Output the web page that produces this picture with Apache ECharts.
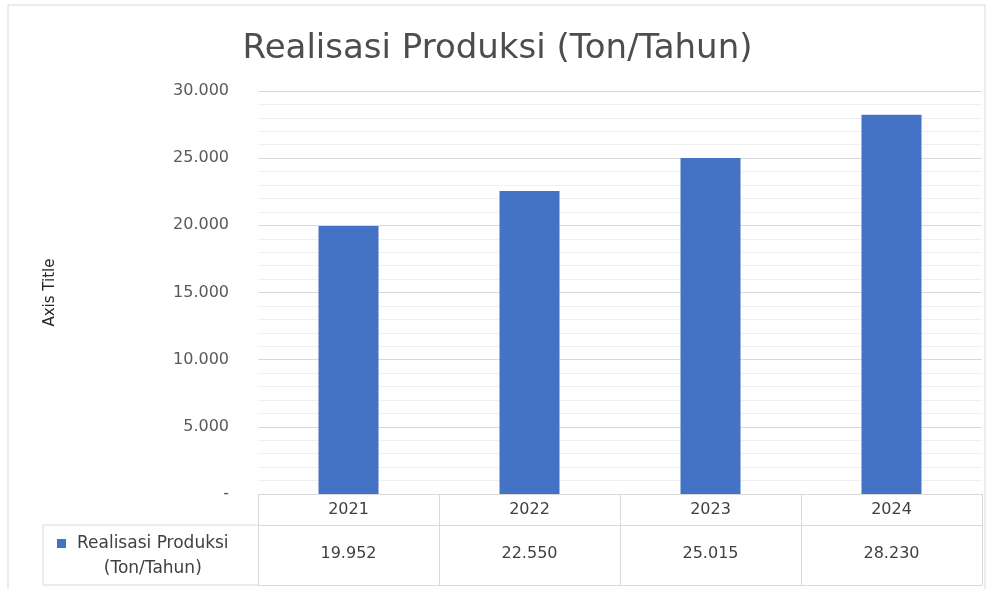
<!DOCTYPE html>
<html lang="en">
<head>
    <meta charset="UTF-8">
    <title>Realisasi Produksi (Ton/Tahun)</title>
    <script src="https://cdn.jsdelivr.net/npm/echarts@6/dist/echarts.min.js"></script>
    <style>
        html, body { margin: 0; padding: 0; background: #fff; }
        #main { width: 995px; height: 589px; }
    </style>
</head>
<body>
    <div id="main"></div>
    <script>
        // data
        var years = ['2021', '2022', '2023', '2024'];
        var produksi = [19952, 22550, 25015, 28230];
        var seriesName = 'Realisasi Produksi (Ton/Tahun)';

        function fmt(v) {
            if (v === 0) return '-';
            return String(v).replace(/\B(?=(\d{3})+(?!\d))/g, '.');
        }

        var fontFam = '"DejaVu Sans", "Noto Sans", sans-serif';
        var lineCol = '#d9d9d9';

        var myChart = echarts.init(document.getElementById('main'));
        var option = {
            animation: false,
            title: {
                text: seriesName,
                left: 'center',
                top: 27,
                textStyle: { fontFamily: fontFam, fontSize: 34, fontWeight: 'normal', color: '#4d4d4d' }
            },
            legend: {
                data: [seriesName],
                left: 52,
                top: 530,
                // square sits at the top of a taller box so it lines up with the first text line
                icon: 'path://M0,0 L9,0 L9,9 L0,9 Z M0,34 L0,34',
                itemWidth: 9,
                itemHeight: 34,
                itemGap: 6,
                formatter: function () { return '{a|Realisasi Produksi}\n{a|(Ton/Tahun)}'; },
                textStyle: {
                    fontFamily: fontFam, fontSize: 17, color: '#404040', padding: [0, 0, 0, 6],
                    rich: { a: { fontFamily: fontFam, fontSize: 17, color: '#404040', lineHeight: 25, align: 'center' } }
                }
            },
            grid: { left: 258, right: 13, top: 91, bottom: 95 },
            xAxis: [{
                type: 'category',
                data: years,
                axisLine: { lineStyle: { color: lineCol } },
                axisTick: { show: true, length: 91, lineStyle: { color: lineCol } },
                axisLabel: { margin: 8, fontFamily: fontFam, fontSize: 16, color: '#404040' }
            }, {
                type: 'category',
                position: 'bottom',
                offset: 31,
                data: produksi.map(fmt),
                axisLine: { lineStyle: { color: lineCol } },
                axisTick: { show: false },
                axisLabel: { margin: 21, fontFamily: fontFam, fontSize: 16, color: '#404040' }
            }, {
                type: 'category',
                position: 'bottom',
                offset: 91,
                data: years,
                axisLine: { lineStyle: { color: lineCol } },
                axisTick: { show: false },
                axisLabel: { show: false }
            }],
            yAxis: {
                type: 'value',
                min: 0,
                max: 30000,
                interval: 5000,
                name: 'Axis Title',
                nameLocation: 'middle',
                nameGap: 200,
                nameTextStyle: { fontFamily: fontFam, fontSize: 15, color: '#262626' },
                axisLine: { show: false },
                axisTick: { show: false },
                axisLabel: { margin: 29, formatter: fmt, fontFamily: fontFam, fontSize: 16, color: '#595959' },
                splitLine: { lineStyle: { color: lineCol } },
                minorTick: { show: false, splitNumber: 5 },
                minorSplitLine: { show: true, lineStyle: { color: '#f0f0f0' } }
            },
            series: [{
                name: seriesName,
                type: 'bar',
                data: produksi,
                barWidth: 60,
                itemStyle: { color: '#4472c4' }
            }],
            graphic: [
                { type: 'rect', shape: { x: 8, y: 5, width: 977, height: 600 }, style: { fill: 'none', stroke: '#d9d9d9', lineWidth: 1 }, silent: true },
                { type: 'line', shape: { x1: 43, y1: 525, x2: 258, y2: 525 }, style: { stroke: lineCol } },
                { type: 'line', shape: { x1: 43, y1: 585, x2: 258, y2: 585 }, style: { stroke: lineCol } },
                { type: 'line', shape: { x1: 43, y1: 525, x2: 43, y2: 585 }, style: { stroke: lineCol } }
            ]
        };
        myChart.setOption(option);
    </script>
</body>
</html>
